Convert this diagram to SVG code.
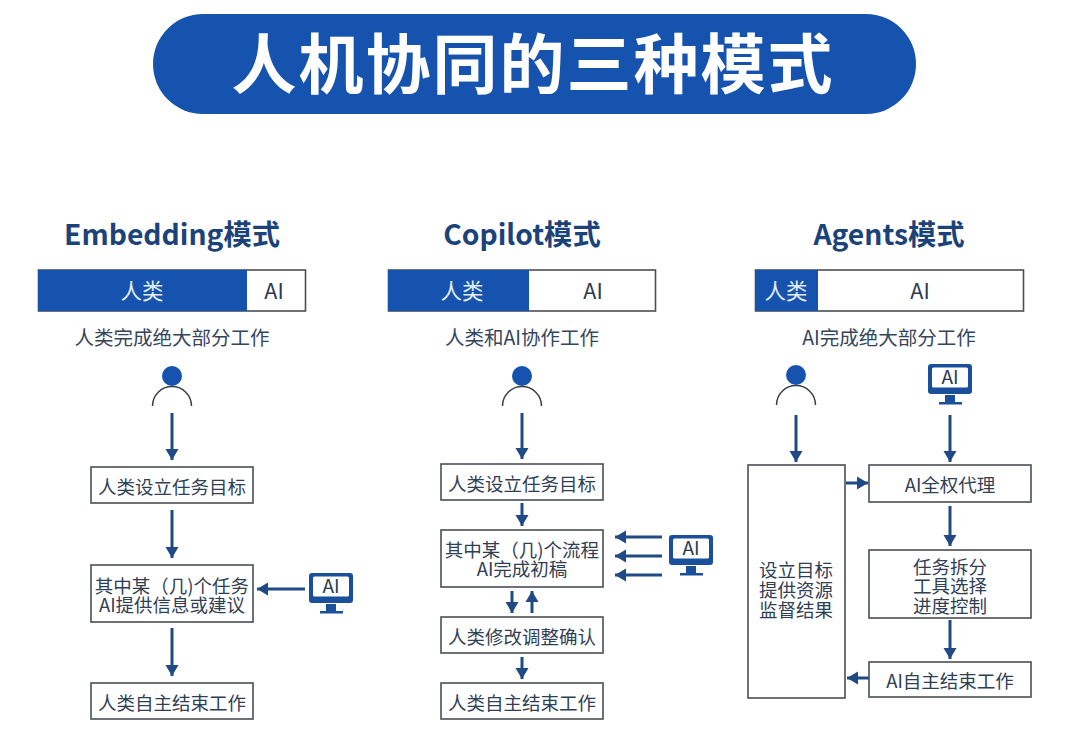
<svg xmlns="http://www.w3.org/2000/svg" width="1080" height="736" viewBox="0 0 1080 736">
<defs>
<style>
text{font-family:"Noto Sans CJK SC","Noto Sans",sans-serif;text-anchor:middle}
.title{font-size:65px;font-weight:700;fill:#fff;letter-spacing:2px}
.head{font-size:28.300px;font-weight:700;fill:#1c4379}
.sub{font-size:19.500px;fill:#34465c}
.bar{font-size:21.500px}
.w{fill:#e4ecf7}
.d{fill:#2b3a4e}
.t{font-size:18.500px;fill:#2f4055}
.box{fill:#fff;stroke:#4a4f57;stroke-width:1.6}
.blue{fill:#1553ae}
.ln{fill:none;stroke:#1f4a85;stroke-width:3;marker-end:url(#ah)}
.arc{fill:none;stroke:#3a3f46;stroke-width:1.5}
.mon{fill:#1a4f9c}
.mi{fill:#fff}
.ai{font-size:19px;fill:#2b3a4e}
</style>
<marker id="ah" markerUnits="userSpaceOnUse" markerWidth="13" markerHeight="14" refX="11" refY="7" orient="auto">
<path d="M0,0.500L11,7L0,13.500Z" fill="#1f4a85"/>
</marker>
<g id="person"><circle cx="0" cy="-30" r="10" class="blue"/><path d="M-19.500,0A19.500,19.500 0 0 1 19.500,0" class="arc"/></g>
<g id="monitor"><rect x="0" y="0" width="44" height="30" rx="3" class="mon"/><rect x="4" y="3.500" width="36" height="20" rx="1.500" class="mi"/><rect x="17" y="31" width="10" height="7" class="mon"/><rect x="11" y="38" width="23" height="2.500" class="mon"/><text x="22" y="20" class="ai">AI</text></g>
</defs>
<rect width="1080" height="736" fill="#fff"/>
<g id="title"><rect x="153" y="14" width="763" height="100" rx="50" class="blue"/><text x="533" y="88" class="title">人机协同的三种模式</text></g>

<g id="embedding-header"><text x="172" y="245" class="head">Embedding模式</text>
<rect x="38.500" y="270" width="267" height="41" class="box"/><rect x="38" y="270" width="209" height="41" class="blue"/>
<text x="142" y="299" class="bar w">人类</text><text x="274" y="299" class="bar d">AI</text>
<text x="172" y="345" class="sub">人类完成绝大部分工作</text></g>
<g id="embedding-person"><use href="#person" x="172" y="406"/></g>
<g id="embedding-box1"><rect x="91" y="467" width="162" height="36" class="box"/><text x="172" y="494" class="t">人类设立任务目标</text></g>
<g id="embedding-box2"><rect x="91" y="565" width="162" height="57" class="box"/><text class="t"><tspan x="172" y="593">其中某（几)个任务</tspan><tspan x="172" y="612">AI提供信息或建议</tspan></text></g>
<g id="embedding-box3"><rect x="91" y="683" width="162" height="36" class="box"/><text x="172" y="710" class="t">人类自主结束工作</text></g>
<g id="embedding-ai"><use href="#monitor" x="309" y="573"/></g>

<g id="copilot-header"><text x="522" y="245" class="head">Copilot模式</text>
<rect x="388.500" y="270" width="267" height="41" class="box"/><rect x="388" y="270" width="141" height="41" class="blue"/>
<text x="462" y="299" class="bar w">人类</text><text x="593" y="299" class="bar d">AI</text>
<text x="522" y="345" class="sub">人类和AI协作工作</text></g>
<g id="copilot-person"><use href="#person" x="522" y="406"/></g>
<g id="copilot-box1"><rect x="441" y="464" width="162" height="36" class="box"/><text x="522" y="491" class="t">人类设立任务目标</text></g>
<g id="copilot-box2"><rect x="441" y="530" width="162" height="57" class="box"/><text class="t"><tspan x="522" y="557">其中某（几)个流程</tspan><tspan x="522" y="576">AI完成初稿</tspan></text></g>
<g id="copilot-box3"><rect x="441" y="617" width="162" height="36" class="box"/><text x="522" y="644" class="t">人类修改调整确认</text></g>
<g id="copilot-box4"><rect x="441" y="683" width="162" height="36" class="box"/><text x="522" y="710" class="t">人类自主结束工作</text></g>
<g id="copilot-ai"><use href="#monitor" x="669" y="535"/></g>

<g id="agents-header"><text x="889" y="245" class="head">Agents模式</text>
<rect x="755.500" y="270" width="268" height="41" class="box"/><rect x="755" y="270" width="63" height="41" class="blue"/>
<text x="786" y="299" class="bar w">人类</text><text x="920" y="299" class="bar d">AI</text>
<text x="889" y="345" class="sub">AI完成绝大部分工作</text></g>
<g id="agents-person"><use href="#person" x="796" y="405"/></g>
<g id="agents-ai"><use href="#monitor" x="928" y="364"/></g>
<g id="agents-left"><rect x="748" y="465" width="97" height="233" class="box"/><text class="t"><tspan x="796" y="577">设立目标</tspan><tspan x="796" y="597">提供资源</tspan><tspan x="796" y="617">监督结果</tspan></text></g>
<g id="agents-box1"><rect x="869" y="465" width="162" height="37" class="box"/><text x="950" y="492" class="t">AI全权代理</text></g>
<g id="agents-box2"><rect x="869" y="550" width="162" height="68" class="box"/><text class="t"><tspan x="950" y="574">任务拆分</tspan><tspan x="950" y="593">工具选择</tspan><tspan x="950" y="613">进度控制</tspan></text></g>
<g id="agents-box3"><rect x="869" y="662" width="162" height="35" class="box"/><text x="950" y="688" class="t">AI自主结束工作</text></g>

<g id="connectors">
<path class="ln" d="M172,413V460"/><path class="ln" d="M172,510V558"/><path class="ln" d="M305,589H257"/><path class="ln" d="M172,628V676"/>
<path class="ln" d="M522,413V459"/><path class="ln" d="M522,503V526"/><path class="ln" d="M512,591V613"/><path class="ln" d="M532,613V591"/><path class="ln" d="M522,657V679"/>
<path class="ln" d="M662,537H615"/><path class="ln" d="M662,556H615"/><path class="ln" d="M662,575H615"/>
<path class="ln" d="M796,415V462"/><path class="ln" d="M950,415V462"/><path class="ln" d="M846,483H868"/><path class="ln" d="M950,506V546"/><path class="ln" d="M950,620V659"/><path class="ln" d="M869,678H847"/>
</g>
</svg>
